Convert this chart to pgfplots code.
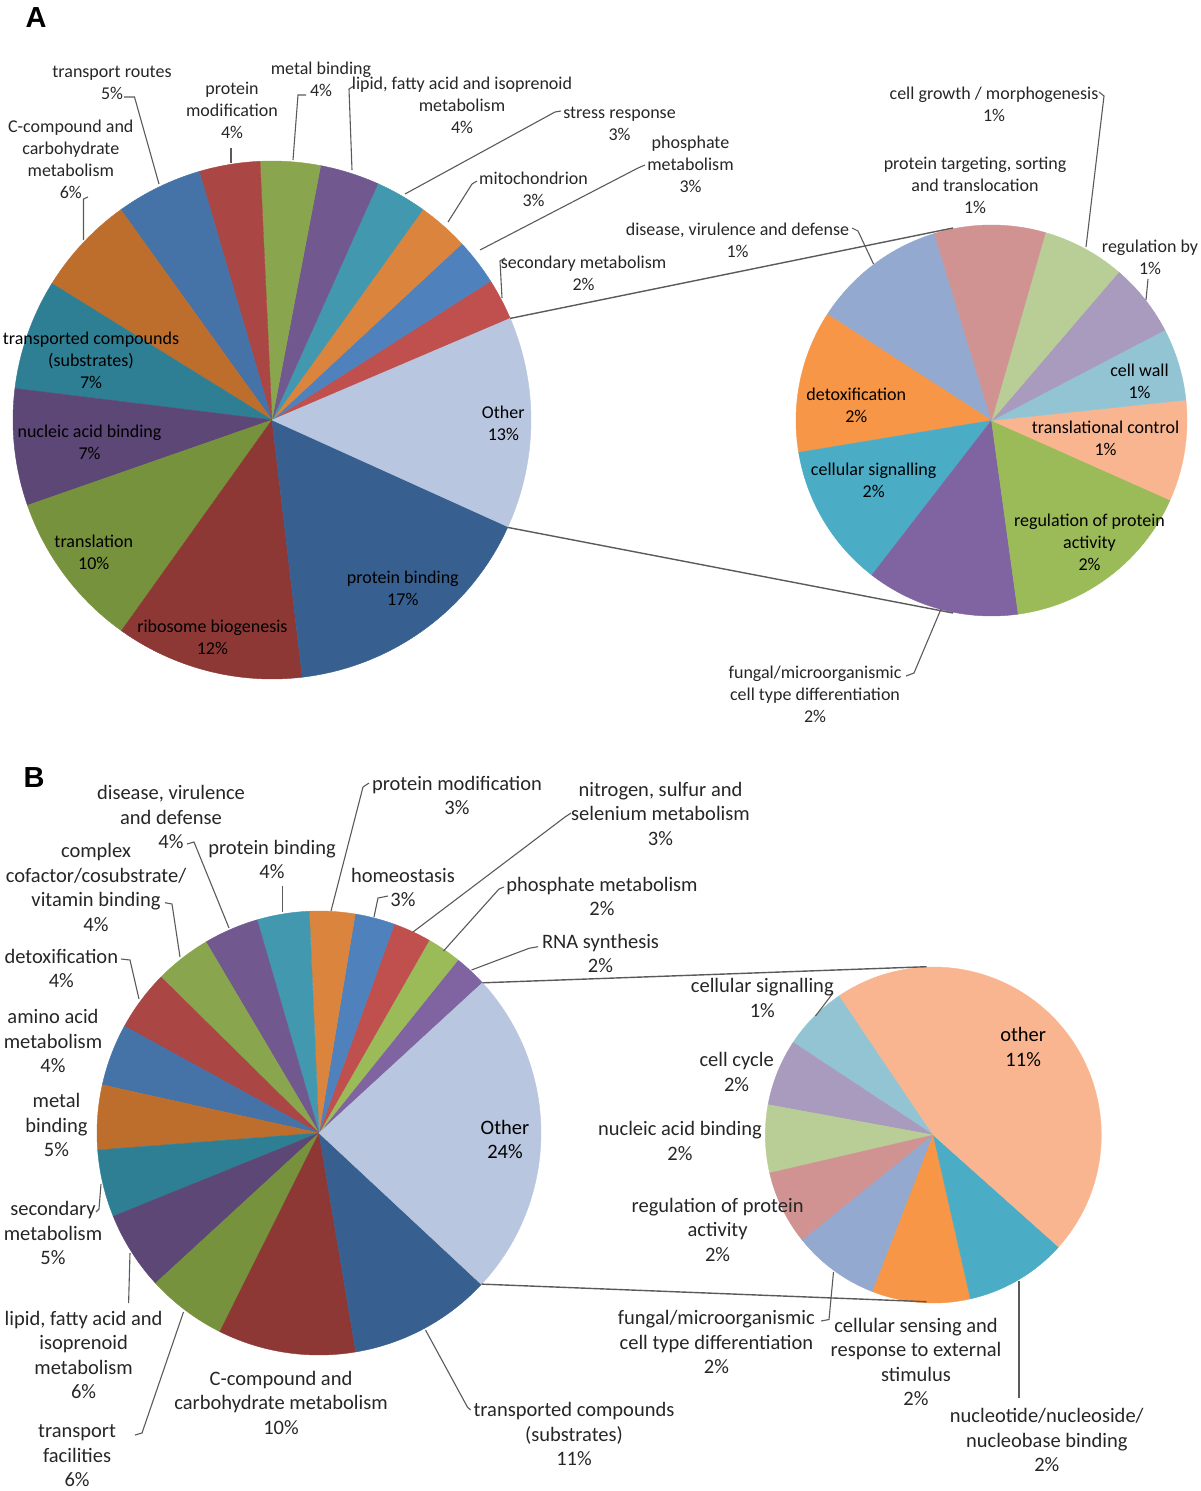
\documentclass[border=0pt]{standalone}
\usepackage{pgfplots}
\pgfplotsset{compat=1.18}
\usepackage{pgfplotstable}
\usepackage{fontspec}
\setmainfont{Carlito}
\newfontfamily\letfont{Liberation Sans}
\newcommand\fa{\fontsize{18}{22}\selectfont}
\newcommand\fb{\fontsize{20.5}{24.5}\selectfont}
% ---- colours
\definecolor{aSec}{HTML}{C0504D}\definecolor{aPho}{HTML}{4F81BD}\definecolor{aMit}{HTML}{DB843D}
\definecolor{aStr}{HTML}{4198AF}\definecolor{aLip}{HTML}{71588F}\definecolor{aMet}{HTML}{89A54E}
\definecolor{aPmo}{HTML}{AA4643}\definecolor{aTra}{HTML}{4572A7}\definecolor{aCco}{HTML}{BD6E2D}
\definecolor{aTco}{HTML}{2F7F94}\definecolor{aNuc}{HTML}{5C4776}\definecolor{aTrl}{HTML}{76923C}
\definecolor{aRib}{HTML}{8E3836}\definecolor{aPbi}{HTML}{375F8F}\definecolor{aOth}{HTML}{B9C6DF}
\definecolor{sDis}{HTML}{93A9CF}\definecolor{sPtg}{HTML}{D09392}\definecolor{sCgr}{HTML}{B9CD96}
\definecolor{sRby}{HTML}{A99BBD}\definecolor{sCwa}{HTML}{93C4D4}\definecolor{sTrc}{HTML}{F9B590}
\definecolor{sRpa}{HTML}{9BBB59}\definecolor{sFun}{HTML}{8064A2}\definecolor{sSig}{HTML}{4BACC6}
\definecolor{sDet}{HTML}{F79646}
\definecolor{leadc}{HTML}{5A5A5A}\definecolor{txt}{HTML}{262626}
% ---- data (percent of all genes)
\pgfplotstableread{
val col
2.6 aSec
2.9 aPho
3.2 aMit
3.2 aStr
3.7 aLip
3.75 aMet
3.8 aPmo
5.4 aTra
6.25 aCco
6.9 aTco
7.3 aNuc
9.8 aTrl
11.75 aRib
16.4 aPbi
13.2 aOth
}\pieA
\pgfplotstableread{
val col
1.47 sDis
1.55 sDet
1.57 sSig
1.67 sFun
2.13 sRpa
1.10 sTrc
0.79 sCwa
0.80 sRby
0.90 sCgr
1.21 sPtg
}\pieAs
\pgfplotstableread{
val col
2.4 sFun
2.5 sRpa
2.75 aSec
2.9 aPho
3.3 aMit
3.8 aStr
4.0 aLip
4.1 aMet
4.4 aPmo
4.5 aTra
4.7 aCco
4.9 aTco
5.7 aNuc
5.8 aTrl
10.0 aRib
10.4 aPbi
23.75 aOth
}\pieB
\pgfplotstableread{
val col
1.49 sCwa
1.52 sRby
1.55 sCgr
1.70 sPtg
1.98 sDis
2.24 sDet
2.34 sSig
10.94 sTrc
}\pieBs
% ---- wedge drawer: table, cx, cy, radius, start angle (counter-clockwise)
\newcommand\drawpie[5]{%
  \xdef\pietotal{0}%
  \pgfplotstableforeachcolumnelement{val}\of#1\as\pv{%
    \pgfmathsetmacro\tmpt{\pietotal+\pv}\xdef\pietotal{\tmpt}}%
  \xdef\pieang{#5}%
  \pgfplotstableforeachcolumnelement{val}\of#1\as\pv{%
    \pgfplotstablegetelem{\pgfplotstablerow}{col}\of#1%
    \let\pc\pgfplotsretval
    \pgfmathsetmacro\pieend{\pieang+\pv/\pietotal*360}%
    \fill[fill=\pc, draw=\pc, line width=0.4pt] (axis cs:#2,#3) -- ++(\pieang:#4pt)
      arc[start angle=\pieang, end angle=\pieend, radius=#4pt] -- cycle;
    \xdef\pieang{\pieend}%
  }%
}
\tikzset{
  la/.style={align=center, inner sep=0pt, font=\fa, text=txt},
  lb/.style={align=center, inner sep=0pt, font=\fb, text=txt},
  ia/.style={align=center, inner sep=0pt, font=\fa, text=black},
  ib/.style={align=center, inner sep=0pt, font=\fb, text=black},
  leader/.style={draw=leadc, line width=1.1pt},
  conn/.style={draw=leadc, line width=1.4pt},
}
\begin{document}
\begin{tikzpicture}
\begin{axis}[
  x=1pt, y=1pt, y dir=reverse,
  xmin=0, xmax=1200, ymin=0, ymax=1491,
  hide axis, clip=false]
\pgfplotsextra{%
  \drawpie{\pieA}{272}{420}{259}{23.1}%
  \drawpie{\pieAs}{991.5}{420.5}{195.5}{107}%
  \drawpie{\pieB}{319}{1133}{222}{42.6}%
  \drawpie{\pieBs}{933.3}{1135}{168}{124}%
}
% connectors
\draw[conn] (axis cs:510.2,318.4) -- (axis cs:953,228);
\draw[conn] (axis cs:507.7,527.4) -- (axis cs:953,613);
\draw[conn] (axis cs:482.5,982.8) -- (axis cs:926.7,966.7);
\draw[conn] (axis cs:481.6,1284.1) -- (axis cs:926.7,1301.7);
% panel letters
\node[font=\letfont\bfseries\fontsize{29}{29}\selectfont, inner sep=0pt] at (axis cs:36,18) {A};
\node[font=\letfont\bfseries\fontsize{29}{29}\selectfont, inner sep=0pt] at (axis cs:34,778) {B};
% ---------------- panel A leaders
\draw[leader] (axis cs:124,97) -- (axis cs:134.5,97) -- (axis cs:159,184);
\draw[leader] (axis cs:231,148) -- (axis cs:231,163);
\draw[leader] (axis cs:306,95) -- (axis cs:298,95) -- (axis cs:293,160);
\draw[leader] (axis cs:354,86) -- (axis cs:349,89) -- (axis cs:352,170);
\draw[leader] (axis cs:561,111) -- (axis cs:555,112) -- (axis cs:405,194);
\draw[leader] (axis cs:477,181) -- (axis cs:472,184) -- (axis cs:448,222);
\draw[leader] (axis cs:645,165) -- (axis cs:638,168) -- (axis cs:480,250);
\draw[leader] (axis cs:505,258) -- (axis cs:500,261) -- (axis cs:502,298);
\draw[leader] (axis cs:88,197) -- (axis cs:83.5,199) -- (axis cs:83.5,240);
\draw[leader] (axis cs:852,228) -- (axis cs:858,231) -- (axis cs:873.5,264);
\draw[leader] (axis cs:1099,92) -- (axis cs:1104,96) -- (axis cs:1086,247);
\draw[leader] (axis cs:1148,279) -- (axis cs:1146,300);
\draw[leader] (axis cs:906,676) -- (axis cs:914,673) -- (axis cs:941,609);
% ---------------- panel A labels
\node[la] at (axis cs:112,83) {transport routes\\5\%};
\node[la] at (axis cs:232,110.7) {protein\\modification\\4\%};
\node[la] at (axis cs:321,79) {metal binding\\4\%};
\node[la] at (axis cs:462,105) {lipid, fatty acid and isoprenoid\\metabolism\\4\%};
\node[la] at (axis cs:619.5,124) {stress response\\3\%};
\node[la] at (axis cs:533.5,189) {mitochondrion\\3\%};
\node[la] at (axis cs:690.5,164.7) {phosphate\\metabolism\\3\%};
\node[la] at (axis cs:583.5,273) {secondary metabolism\\2\%};
\node[la] at (axis cs:70.8,159) {C-compound and\\carbohydrate\\metabolism\\6\%};
\node[ia] at (axis cs:91,360.7) {transported compounds\\(substrates)\\7\%};
\node[ia] at (axis cs:89.5,442) {nucleic acid binding\\7\%};
\node[ia] at (axis cs:93.8,552) {translation\\10\%};
\node[ia] at (axis cs:212.4,637) {ribosome biogenesis\\12\%};
\node[ia] at (axis cs:402.8,588.3) {protein binding\\17\%};
\node[ia] at (axis cs:503.3,423.5) {Other\\13\%};
\node[la] at (axis cs:994,104) {cell growth / morphogenesis\\1\%};
\node[la] at (axis cs:975,185.7) {protein targeting, sorting\\and translocation\\1\%};
\node[la] at (axis cs:737.5,240) {disease, virulence and defense\\1\%};
\node[la] at (axis cs:1150,257.5) {regulation by\\1\%};
\node[ia] at (axis cs:1139.5,381.7) {cell wall\\1\%};
\node[ia] at (axis cs:1105.5,438.8) {translational control\\1\%};
\node[ia] at (axis cs:1089.5,542.3) {regulation of protein\\activity\\2\%};
\node[ia] at (axis cs:873.7,480) {cellular signalling\\2\%};
\node[ia] at (axis cs:856.3,405) {detoxification\\2\%};
\node[la] at (axis cs:815,694) {fungal/microorganismic\\cell type differentiation\\2\%};
% ---------------- panel B leaders
\draw[leader] (axis cs:187,844) -- (axis cs:194,842) -- (axis cs:229,928);
\draw[leader] (axis cs:282.6,886) -- (axis cs:282.6,912);
\draw[leader] (axis cs:369,783) -- (axis cs:363,787) -- (axis cs:331,911);
\draw[leader] (axis cs:571,813) -- (axis cs:565,817) -- (axis cs:413,932);
\draw[leader] (axis cs:388,896) -- (axis cs:378,898) -- (axis cs:374,917);
\draw[leader] (axis cs:504,887) -- (axis cs:499,889) -- (axis cs:443.5,951);
\draw[leader] (axis cs:538,946.7) -- (axis cs:529,948.3) -- (axis cs:471.5,970);
\draw[leader] (axis cs:165,902.7) -- (axis cs:172,904) -- (axis cs:180,957);
\draw[leader] (axis cs:121,959) -- (axis cs:130,960) -- (axis cs:139,999);
\draw[leader] (axis cs:96,1212) -- (axis cs:99,1209) -- (axis cs:101,1184);
\draw[leader] (axis cs:128.6,1303) -- (axis cs:130,1253);
\draw[leader] (axis cs:135,1435) -- (axis cs:142,1433) -- (axis cs:183.5,1312);
\draw[leader] (axis cs:470.6,1410) -- (axis cs:467.4,1407) -- (axis cs:425.5,1330);
\draw[leader] (axis cs:833,993) -- (axis cs:815.5,1016);
\draw[leader] (axis cs:821,1321) -- (axis cs:829,1319.5) -- (axis cs:833.5,1272);
\draw[leader] (axis cs:1019,1281) -- (axis cs:1019,1398);
% ---------------- panel B labels
\node[lb] at (axis cs:171,817) {disease, virulence\\and defense\\4\%};
\node[lb] at (axis cs:272,859.5) {protein binding\\4\%};
\node[lb] at (axis cs:457,795.5) {protein modification\\3\%};
\node[lb] at (axis cs:660.5,813.5) {nitrogen, sulfur and\\selenium metabolism\\3\%};
\node[lb] at (axis cs:403,887.5) {homeostasis\\3\%};
\node[lb] at (axis cs:602,896.7) {phosphate metabolism\\2\%};
\node[lb] at (axis cs:600.5,953.7) {RNA synthesis\\2\%};
\node[lb] at (axis cs:96,887.5) {complex\\cofactor/cosubstrate/\\vitamin binding\\4\%};
\node[lb] at (axis cs:61.3,968.7) {detoxification\\4\%};
\node[lb] at (axis cs:53,1041) {amino acid\\metabolism\\4\%};
\node[lb] at (axis cs:56.5,1125) {metal\\binding\\5\%};
\node[lb] at (axis cs:53,1233) {secondary\\metabolism\\5\%};
\node[lb] at (axis cs:83.6,1355) {lipid, fatty acid and\\isoprenoid\\metabolism\\6\%};
\node[lb] at (axis cs:77.1,1456) {transport\\facilities\\6\%};
\node[lb] at (axis cs:281,1402.8) {C-compound and\\carbohydrate metabolism\\10\%};
\node[lb] at (axis cs:574,1434) {transported compounds\\(substrates)\\11\%};
\node[ib] at (axis cs:505,1139.5) {Other\\24\%};
\node[lb] at (axis cs:762.3,998) {cellular signalling\\1\%};
\node[lb] at (axis cs:736.6,1071.8) {cell cycle\\2\%};
\node[lb] at (axis cs:680,1140.8) {nucleic acid binding\\2\%};
\node[lb] at (axis cs:717.6,1229.9) {regulation of protein\\activity\\2\%};
\node[lb] at (axis cs:716.4,1342.3) {fungal/microorganismic\\cell type differentiation\\2\%};
\node[lb] at (axis cs:916,1361.8) {cellular sensing and\\response to external\\stimulus\\2\%};
\node[lb] at (axis cs:1046.8,1440) {nucleotide/nucleoside/\\nucleobase binding\\2\%};
\node[ib] at (axis cs:1023.2,1047.2) {other\\11\%};
\end{axis}
\pgfresetboundingbox
\path (current axis.south west) rectangle (current axis.north east);
\end{tikzpicture}
\end{document}
